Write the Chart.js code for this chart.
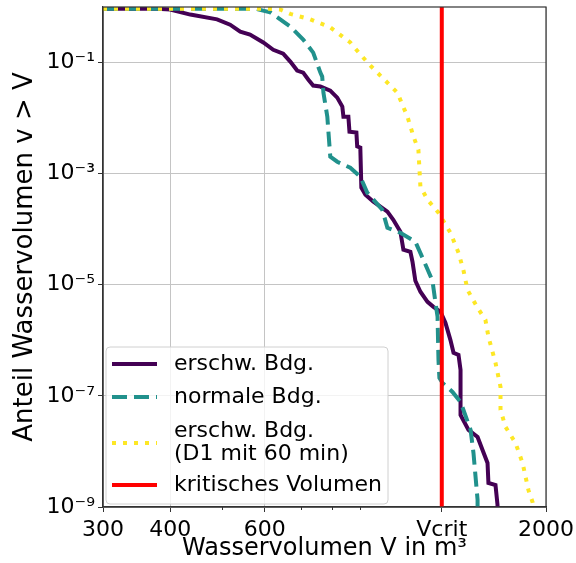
<!DOCTYPE html>
<html>
<head>
<meta charset="utf-8">
<script src="https://cdn.jsdelivr.net/npm/chart.js@4.4.0/dist/chart.umd.min.js"></script>
<style>body{margin:0;background:#fff}</style>
</head>
<body>
<canvas id="myChart" width="576" height="563"></canvas>
<script>
// Überschreitungswahrscheinlichkeit je Wasservolumen
const erschwV = [300, 378, 400, 436, 489, 517, 540, 563, 596, 622, 649, 669, 689, 707, 723, 738, 761, 794, 818, 836,
  840, 858, 862, 888, 891, 903, 907, 923, 955, 984, 1014, 1040, 1072, 1086, 1119, 1129, 1143, 1168, 1204, 1235,
  1273, 1300, 1328, 1346, 1375, 1387, 1387, 1435, 1492, 1524, 1557, 1563, 1611, 1625, 1625];
const erschwP = [0.93, 0.93, 0.9, 0.73, 0.6, 0.48, 0.36, 0.32, 0.23, 0.17, 0.145, 0.104, 0.0717, 0.066, 0.049, 0.0385, 0.037, 0.0313, 0.0234, 0.0161,
  0.0106, 0.0106, 0.0057, 0.0055, 0.0031, 0.00294, 5.6e-4, 4.19e-4, 3.13e-4, 2.54e-4, 2.07e-4, 1.48e-4, 9e-5, 4.27e-5, 3.93e-5, 2.6e-5, 1.18e-5, 7.5e-6, 4.94e-6, 4e-6,
  3.27e-6, 2.07e-6, 1.02e-6, 5.96e-7, 5.48e-7, 2.94e-7, 4.55e-8, 2.44e-8, 1.82e-8, 1.06e-8, 6.2e-9, 2.7e-9, 2.49e-9, 1.09e-9, 1e-9];

const normalV = [300, 576, 614, 669, 707, 738, 761, 767, 771, 784, 794, 818, 865, 903, 930, 992, 1014, 1072, 1143, 1183,
  1230, 1246, 1257, 1262, 1267, 1284, 1340, 1387, 1448, 1466, 1492, 1492];
const normalP = [0.93, 0.93, 0.8, 0.445, 0.26, 0.151, 0.066, 0.056, 0.0288, 0.0106, 0.00202, 0.00164, 0.00128, 8.8e-4, 4.55e-4, 2.25e-4, 1.06e-4, 8.65e-5, 5.96e-5, 2.82e-5,
  1.18e-5, 4.74e-6, 2.65e-6, 4.46e-7, 2.1e-7, 1.71e-7, 1.18e-7, 7.8e-8, 2.44e-8, 9.4e-9, 1.34e-9, 1e-9];

const d1V = [300, 606, 641, 669, 729, 794, 865, 903, 943, 1058, 1105, 1134, 1158, 1168, 1204, 1262, 1328, 1375, 1405, 1429,
  1492, 1543, 1563, 1611, 1646, 1646, 1682, 1755, 1809, 1855, 1888, 1895];
const d1P = [0.93, 0.93, 0.9, 0.75, 0.6, 0.43, 0.23, 0.14, 0.088, 0.0288, 0.0106, 0.00464, 0.0027, 5.83e-4, 3.4e-4, 1.98e-4, 8.65e-5, 3.78e-5, 1.79e-5, 8.1e-6,
  3.85e-6, 2.34e-6, 1.16e-6, 3.94e-7, 1.45e-7, 5.6e-8, 2.76e-8, 1.42e-8, 6.2e-9, 2.02e-9, 1.23e-9, 1e-9];

const vCrit = 1280;
const xTicks = [300, 400, 600, vCrit, 2000];
const xMinorTicks = [500, 700, 800, 900];
const yTicks = [1e-9, 1e-7, 1e-5, 1e-3, 1e-1];
const seriesLabels = [['erschw. Bdg.'], ['normale Bdg.'], ['erschw. Bdg.', '(D1 mit 60 min)'], ['kritisches Volumen']];

const sup = { '-': '\u207B', '0': '\u2070', '1': '\u00B9', '2': '\u00B2', '3': '\u00B3', '4': '\u2074',
  '5': '\u2075', '6': '\u2076', '7': '\u2077', '8': '\u2078', '9': '\u2079' };
function powLabel(v) {
  const e = Math.round(Math.log10(v));
  return '10' + String(e).split('').map(c => sup[c]).join('');
}
const pts = (xs, ys) => xs.map((x, i) => ({ x: x, y: ys[i] }));

Chart.defaults.font.family = 'DejaVu Sans';
Chart.defaults.font.size = 22;
Chart.defaults.color = '#000';

// Rahmen, Nebenstriche und Legende im Diagramm
const extras = {
  id: 'extras',
  afterDraw(chart) {
    const { ctx, chartArea: a, scales } = chart;
    ctx.save();
    ctx.strokeStyle = '#333';
    ctx.lineWidth = 1.2;
    ctx.strokeRect(a.left, a.top, a.right - a.left, a.bottom - a.top);
    ctx.lineWidth = 1;
    xMinorTicks.forEach(v => {
      const px = Math.round(scales.x.getPixelForValue(v)) + 0.5;
      ctx.beginPath();
      ctx.moveTo(px, a.bottom);
      ctx.lineTo(px, a.bottom + 3);
      ctx.stroke();
    });

    // Legende
    const bx = a.left + 3, by = a.bottom - 160, bw = 282, bh = 157;
    ctx.beginPath();
    ctx.roundRect(bx, by, bw, bh, 4);
    ctx.fillStyle = 'rgba(255,255,255,0.8)';
    ctx.fill();
    ctx.strokeStyle = '#d0d0d0';
    ctx.stroke();
    const rows = [143, 110, 64, 22];
    ctx.font = '22px "DejaVu Sans"';
    ctx.textBaseline = 'middle';
    chart.data.datasets.forEach((ds, i) => {
      const y = a.bottom - rows[i];
      ctx.strokeStyle = ds.borderColor;
      ctx.lineWidth = ds.borderWidth;
      ctx.setLineDash(ds.borderDash || []);
      ctx.beginPath();
      ctx.moveTo(a.left + 9, y);
      ctx.lineTo(a.left + 54, y);
      ctx.stroke();
      ctx.setLineDash([]);
      ctx.fillStyle = '#000';
      const lines = seriesLabels[i];
      lines.forEach((t, k) => {
        ctx.fillText(t, a.left + 71, y + (k - (lines.length - 1) / 2) * 23);
      });
    });
    ctx.restore();
  }
};

const ctx = document.getElementById('myChart').getContext('2d');

const chart = new Chart(ctx, {
  type: 'line',
  data: {
    datasets: [{
      label: 'erschw. Bdg.',
      data: pts(erschwV, erschwP),
      borderColor: '#440154',
      borderWidth: 4,
      order: 3,
    }, {
      label: 'normale Bdg.',
      data: pts(normalV, normalP),
      borderColor: '#21918c',
      borderWidth: 4,
      borderDash: [15, 7],
      order: 2,
    }, {
      label: 'erschw. Bdg. (D1 mit 60 min)',
      data: pts(d1V, d1P),
      borderColor: '#fde725',
      borderWidth: 4,
      borderDash: [4, 7],
      order: 1,
    }, {
      label: 'kritisches Volumen',
      data: [{ x: vCrit, y: yTicks[0] }, { x: vCrit, y: 1 }],
      borderColor: '#ff0000',
      borderWidth: 4,
      order: 0,
    }],
  },
  options: {
    responsive: false,
    animation: false,
    layout: { padding: { top: 7, right: 30, left: 0, bottom: 0 } },
    elements: { point: { radius: 0 }, line: { tension: 0, borderCapStyle: 'butt' } },
    plugins: { legend: { display: false }, tooltip: { enabled: false } },
    scales: {
      x: {
        type: 'logarithmic',
        min: 300,
        max: 2000,
        afterBuildTicks: s => { s.ticks = xTicks.map(v => ({ value: v })); },
        afterFit: s => { s.height = 56; s.paddingLeft = 0; s.paddingRight = 0; },
        ticks: {
          autoSkip: false, maxRotation: 0, padding: 5,
          callback: v => (v === vCrit ? 'Vcrit' : String(v)),
        },
        grid: { color: '#c4c4c4', tickColor: '#333', tickLength: 5 },
        border: { color: '#333', width: 1.2 },
        title: {
          display: true, text: 'Wasservolumen V in m³',
          font: { size: 24 }, padding: { top: 0, bottom: 0 },
        },
      },
      y: {
        type: 'logarithmic',
        min: 1e-9,
        max: 1,
        afterBuildTicks: s => { s.ticks = yTicks.map(v => ({ value: v })); },
        afterFit: s => { s.width = 103; s.paddingTop = 0; s.paddingBottom = 0; },
        ticks: { autoSkip: false, padding: 3, callback: v => powLabel(v) },
        grid: { color: '#c4c4c4', tickColor: '#333', tickLength: 5 },
        border: { color: '#333', width: 1.2 },
        title: {
          display: true, text: 'Anteil Wasservolumen v > V',
          font: { size: 26 }, padding: { top: 10, bottom: 0 },
        },
      },
    },
  },
  plugins: [extras],
});
</script>
</body>
</html>
